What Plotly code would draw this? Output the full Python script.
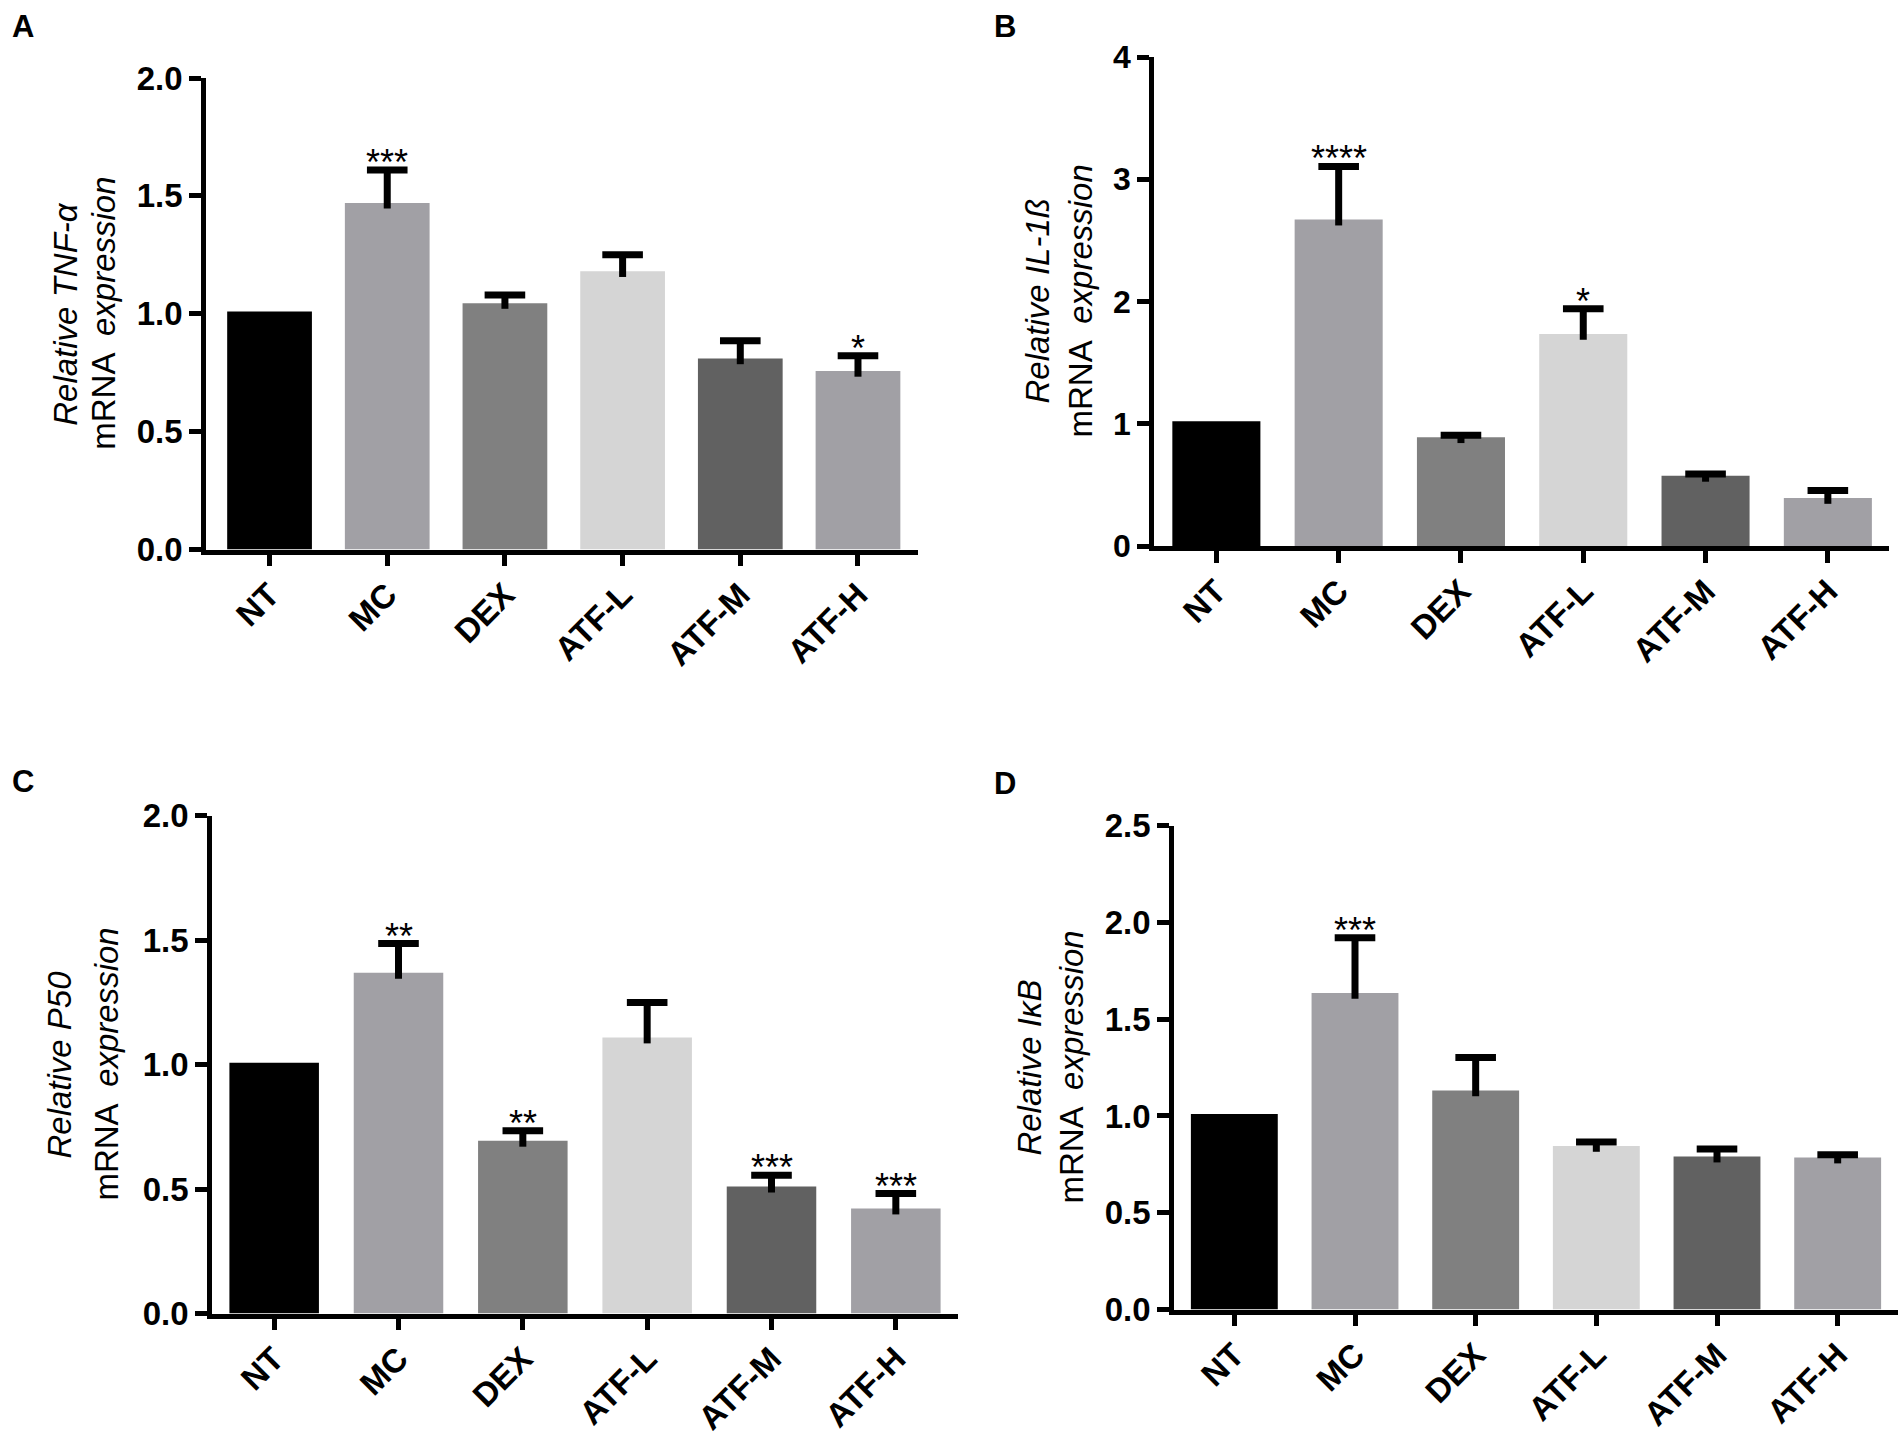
import plotly.graph_objects as go

# ---------------- data ----------------
categories = ["NT", "MC", "DEX", "ATF-L", "ATF-M", "ATF-H"]

tnf_mean = [1.01, 1.47, 1.045, 1.18, 0.81, 0.757]
tnf_sem = [0.0, 0.14, 0.035, 0.07, 0.075, 0.065]
tnf_sig = ["", "***", "", "", "", "*"]
tnf_yticks = [0.0, 0.5, 1.0, 1.5, 2.0]
tnf_yticklabels = ["0.0", "0.5", "1.0", "1.5", "2.0"]

il1b_mean = [1.02, 2.67, 0.89, 1.735, 0.574, 0.393]
il1b_sem = [0.0, 0.435, 0.015, 0.205, 0.015, 0.06]
il1b_sig = ["", "****", "", "*", "", ""]
il1b_yticks = [0, 1, 2, 3, 4]
il1b_yticklabels = ["0", "1", "2", "3", "4"]

p50_mean = [1.007, 1.369, 0.694, 1.109, 0.51, 0.422]
p50_sem = [0.0, 0.117, 0.04, 0.14, 0.045, 0.06]
p50_sig = ["", "**", "**", "", "***", "***"]
p50_yticks = [0.0, 0.5, 1.0, 1.5, 2.0]
p50_yticklabels = ["0.0", "0.5", "1.0", "1.5", "2.0"]

ikb_mean = [1.01, 1.636, 1.132, 0.845, 0.79, 0.785]
ikb_sem = [0.0, 0.285, 0.17, 0.02, 0.04, 0.015]
ikb_sig = ["", "***", "", "", "", ""]
ikb_yticks = [0.0, 0.5, 1.0, 1.5, 2.0, 2.5]
ikb_yticklabels = ["0.0", "0.5", "1.0", "1.5", "2.0", "2.5"]

gene_labels = ["TNF-α", "IL-1ß", "P50", "IκB"]
panel_letters = ["A", "B", "C", "D"]

bar_colors = ["#000000", "#A1A0A5", "#808080", "#D5D5D5", "#616161", "#A1A0A5"]

# ---------------- layout geometry (pixels in a 1904 x 1442 page) ----------------
W, H = 1904, 1442
FONT = "Liberation Sans, Arial, Helvetica, sans-serif"

geo = [
    dict(x0=206, x1=918, ytop=78, ybot=549.5, xr=[-0.54, 5.51], t1=66, t2=104, lx=23, ly=27, tfs=33),
    dict(x0=1154, x1=1889, ytop=57, ybot=546, xr=[-0.51, 5.5], t1=1037, t2=1080, lx=1005, ly=27, tfs=32),
    dict(x0=212, x1=958, ytop=815.6, ybot=1313.5, xr=[-0.5, 5.5], t1=60, t2=107, lx=23, ly=781, tfs=33),
    dict(x0=1174, x1=1898, ytop=825.7, ybot=1309.5, xr=[-0.5, 5.5], t1=1030, t2=1072, lx=1005, ly=783, tfs=33),
]

panels = [
    (tnf_mean, tnf_sem, tnf_sig, tnf_yticks, tnf_yticklabels),
    (il1b_mean, il1b_sem, il1b_sig, il1b_yticks, il1b_yticklabels),
    (p50_mean, p50_sem, p50_sig, p50_yticks, p50_yticklabels),
    (ikb_mean, ikb_sem, ikb_sig, ikb_yticks, ikb_yticklabels),
]

fig = go.Figure()
annotations = []
layout_axes = {}

for i, ((mean, sem, sig, yt, ytl), g) in enumerate(zip(panels, geo)):
    n = i + 1
    xa = "x" if n == 1 else f"x{n}"
    ya = "y" if n == 1 else f"y{n}"
    xkey = "xaxis" if n == 1 else f"xaxis{n}"
    ykey = "yaxis" if n == 1 else f"yaxis{n}"
    ymax = yt[-1]
    stub = 0.012 * ymax

    fig.add_trace(go.Bar(
        x=categories, y=mean, xaxis=xa, yaxis=ya,
        marker=dict(color=bar_colors, line=dict(width=0)),
        error_y=dict(type="data", symmetric=False, array=sem,
                     arrayminus=[stub if e > 0 else 0 for e in sem],
                     width=0, thickness=7, color="black", visible=True),
        showlegend=False, hoverinfo="skip",
    ))
    caps = [m + e if e > 0 else None for m, e in zip(mean, sem)]
    fig.add_trace(go.Scatter(
        x=categories, y=caps, xaxis=xa, yaxis=ya, mode="markers",
        marker=dict(symbol="line-ew", size=29, color="black",
                    line=dict(width=7, color="black")),
        showlegend=False, hoverinfo="skip",
    ))
    for c, m, e, s in zip(categories, mean, sem, sig):
        if s:
            annotations.append(dict(
                x=c, y=m + e, xref=xa, yref=ya, text=s, showarrow=False,
                xanchor="center", yanchor="bottom", yshift=-15,
                font=dict(family=FONT, size=36, color="black"),
            ))

    layout_axes[xkey] = dict(
        domain=[g["x0"] / W, g["x1"] / W], anchor=ya, range=g["xr"],
        type="category", categoryorder="array", categoryarray=categories,
        showline=True, linewidth=4.5, linecolor="black", mirror=False,
        ticks="outside", ticklen=12, tickwidth=4.5, tickcolor="black",
        tickangle=-45, showgrid=False, zeroline=False, automargin=False,
        ticklabelstandoff=-4,
        tickfont=dict(family=FONT, size=33, color="black", weight="bold"),
    )
    layout_axes[ykey] = dict(
        domain=[1 - g["ybot"] / H, 1 - g["ytop"] / H], anchor=xa,
        range=[0, ymax], tickvals=yt, ticktext=ytl,
        showline=True, linewidth=4.5, linecolor="black",
        ticks="outside", ticklen=12, tickwidth=4.5, tickcolor="black",
        showgrid=False, zeroline=False, automargin=False,
        tickfont=dict(family=FONT, size=g["tfs"], color="black", weight="bold"),
    )

    ymid = 1 - (g["ytop"] + g["ybot"]) / 2 / H
    annotations.append(dict(
        x=g["t1"] / W, y=ymid, xref="paper", yref="paper", showarrow=False,
        text=f"<i>Relative {gene_labels[i]}</i>", textangle=-90,
        xanchor="center", yanchor="middle",
        font=dict(family=FONT, size=33, color="black"),
    ))
    annotations.append(dict(
        x=g["t2"] / W, y=ymid, xref="paper", yref="paper", showarrow=False,
        text="mRNA  <i>expression</i>", textangle=-90,
        xanchor="center", yanchor="middle",
        font=dict(family=FONT, size=33, color="black"),
    ))
    annotations.append(dict(
        x=g["lx"] / W, y=1 - g["ly"] / H, xref="paper", yref="paper", showarrow=False,
        text=f"<b>{panel_letters[i]}</b>", xanchor="center", yanchor="middle",
        font=dict(family=FONT, size=31, color="black"),
    ))

fig.update_layout(
    template="none",
    width=W, height=H, autosize=False,
    margin=dict(l=0, r=0, t=0, b=0, pad=0, autoexpand=False),
    paper_bgcolor="white", plot_bgcolor="white",
    bargap=0.28, showlegend=False,
    annotations=annotations,
    **layout_axes,
)

post = (
    "document.documentElement.style.margin='0';"
    "document.body.style.margin='0';document.body.style.padding='0';"
    "var d=document.querySelector('.plotly-graph-div');"
    "d.style.position='absolute';d.style.left='0px';d.style.top='0px';"
)
fig.write_html("out.html", config={"displayModeBar": False}, post_script=post)
